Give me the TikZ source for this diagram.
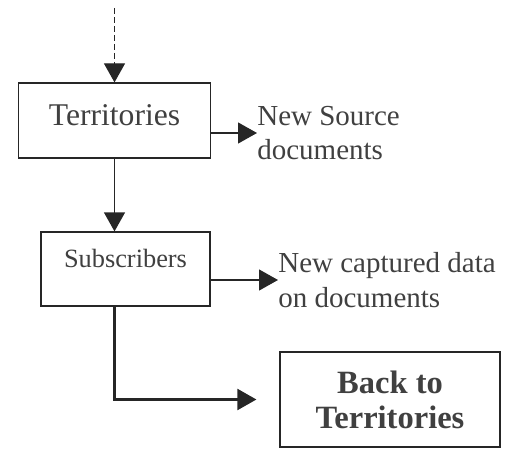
\documentclass[tikz,border=0pt]{standalone}
\usepackage{fontspec}
\setmainfont{Liberation Serif}
\usepackage{xcolor}
\usetikzlibrary{arrows.meta}

\begin{document}
\begin{tikzpicture}[
  box/.style={draw=black!85, line width=0.7pt, rectangle, fill=white, text=black!75},
  note/.style={anchor=west, inner sep=0pt, align=left, text=black!75},
  flow/.style={draw=black!85, line width=0.7pt, -{Triangle[length=0.38cm,width=0.42cm]}}
]%
\useasboundingbox (0,0) rectangle (10.1,-8.98);%
\coordinate (top) at (2.29, -0.16);%
\node[box, minimum width=3.84cm, minimum height=1.5cm, text depth=0.2cm, font=\fontsize{18pt}{21pt}\selectfont] (terr) at (2.29, -2.41) {Territories};%
\node[box, minimum width=3.38cm, minimum height=1.48cm, text depth=0.42cm, font=\fontsize{15pt}{18pt}\selectfont] (subs) at (2.51, -5.38) {Subscribers};%
\node[box, minimum width=4.4cm, minimum height=1.9cm, align=center, font=\fontsize{18.5pt}{20pt}\selectfont\bfseries] (back) at (7.8, -7.99) {Back to\\Territories};%
\node[note, font=\fontsize{16.5pt}{19pt}\selectfont] (src) at (5.14, -2.66) {New Source\\documents};%
\node[note, font=\fontsize{16.5pt}{19.5pt}\selectfont] (cap) at (5.56, -5.6) {New captured data\\on documents};%
\draw[flow, dash pattern=on 1.2mm off 0.6mm] (top) -- (terr.north);%
\draw[flow] (terr.east |- src.west) -- (src.west);%
\draw[flow] (terr.south) -- (terr.south |- subs.north);%
\draw[flow] (subs.east |- cap.west) -- (cap.west);%
\draw[flow, line width=1.3pt, shorten >=0.46cm] (terr.south |- subs.south) |- (back.west);%
\end{tikzpicture}
\end{document}
